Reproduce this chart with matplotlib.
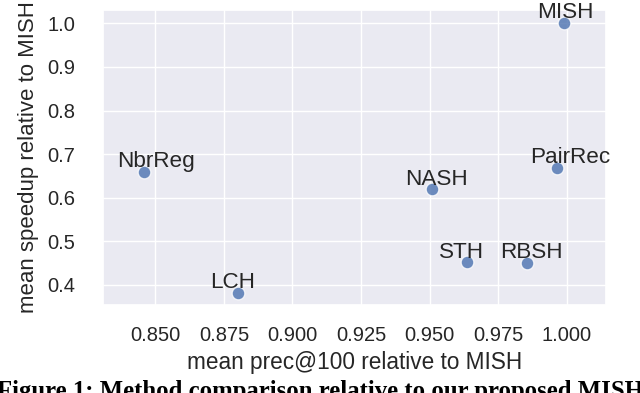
import matplotlib
matplotlib.use("Agg")
import matplotlib.pyplot as plt
import seaborn as sns

# mean precision / speedup relative to MISH
methods = ["MISH", "NbrReg", "NASH", "PairRec", "STH", "RBSH", "LCH"]
rel_prec = [0.999, 0.846, 0.951, 0.9966, 0.9636, 0.9856, 0.880]
rel_speedup = [1.000, 0.659, 0.620, 0.668, 0.452, 0.450, 0.382]

# label nudges (pixels) so names sit above their markers
label_offsets = [(1, 5), (11.5, 4.5), (4.5, 4), (13, 5), (-5, 4), (4.5, 5), (-5, 5)]

sns.set_theme(style="darkgrid")
plt.rcParams["font.family"] = ["Liberation Sans", "DejaVu Sans"]

fig, ax = plt.subplots(figsize=(6.4, 3.93), dpi=100)
fig.subplots_adjust(left=0.1605, right=0.9469, top=0.9746, bottom=0.2239)

ax.scatter(rel_prec, rel_speedup, s=83, color="#4C72B0", alpha=0.8,
           edgecolor="white", linewidth=0.9, zorder=3)

for name, x, y, (dx, dy) in zip(methods, rel_prec, rel_speedup, label_offsets):
    ax.annotate(name, (x, y), xytext=(dx, dy), textcoords="offset pixels",
                ha="center", va="baseline", fontsize=16.2, color="#262626", zorder=4)

ax.set_xlim(0.8308, 1.01433)
ax.set_ylim(0.354, 1.0305)
ax.set_xticks([0.850, 0.875, 0.900, 0.925, 0.950, 0.975, 1.000])
ax.set_xticklabels(["0.850", "0.875", "0.900", "0.925", "0.950", "0.975", "1.000"])
ax.set_yticks([0.4, 0.5, 0.6, 0.7, 0.8, 0.9, 1.0])
ax.tick_params(axis="both", labelsize=14.5, colors="#262626")
ax.tick_params(axis="x", pad=9)
ax.tick_params(axis="y", pad=14)
ax.set_xlabel("mean prec@100 relative to MISH", fontsize=16.3, labelpad=4.5, color="#262626")
ax.set_ylabel("mean speedup relative to MISH", fontsize=16, labelpad=6, color="#262626")

fig.text(-0.004, 1 - 380 / 393, "Figure 1: Method comparison relative to our proposed MISH",
         family=["Liberation Serif", "DejaVu Serif"], fontweight="bold",
         fontsize=17.8, va="top", ha="left", color="black")

fig.savefig("out.png", dpi=100)
plt.close(fig)
